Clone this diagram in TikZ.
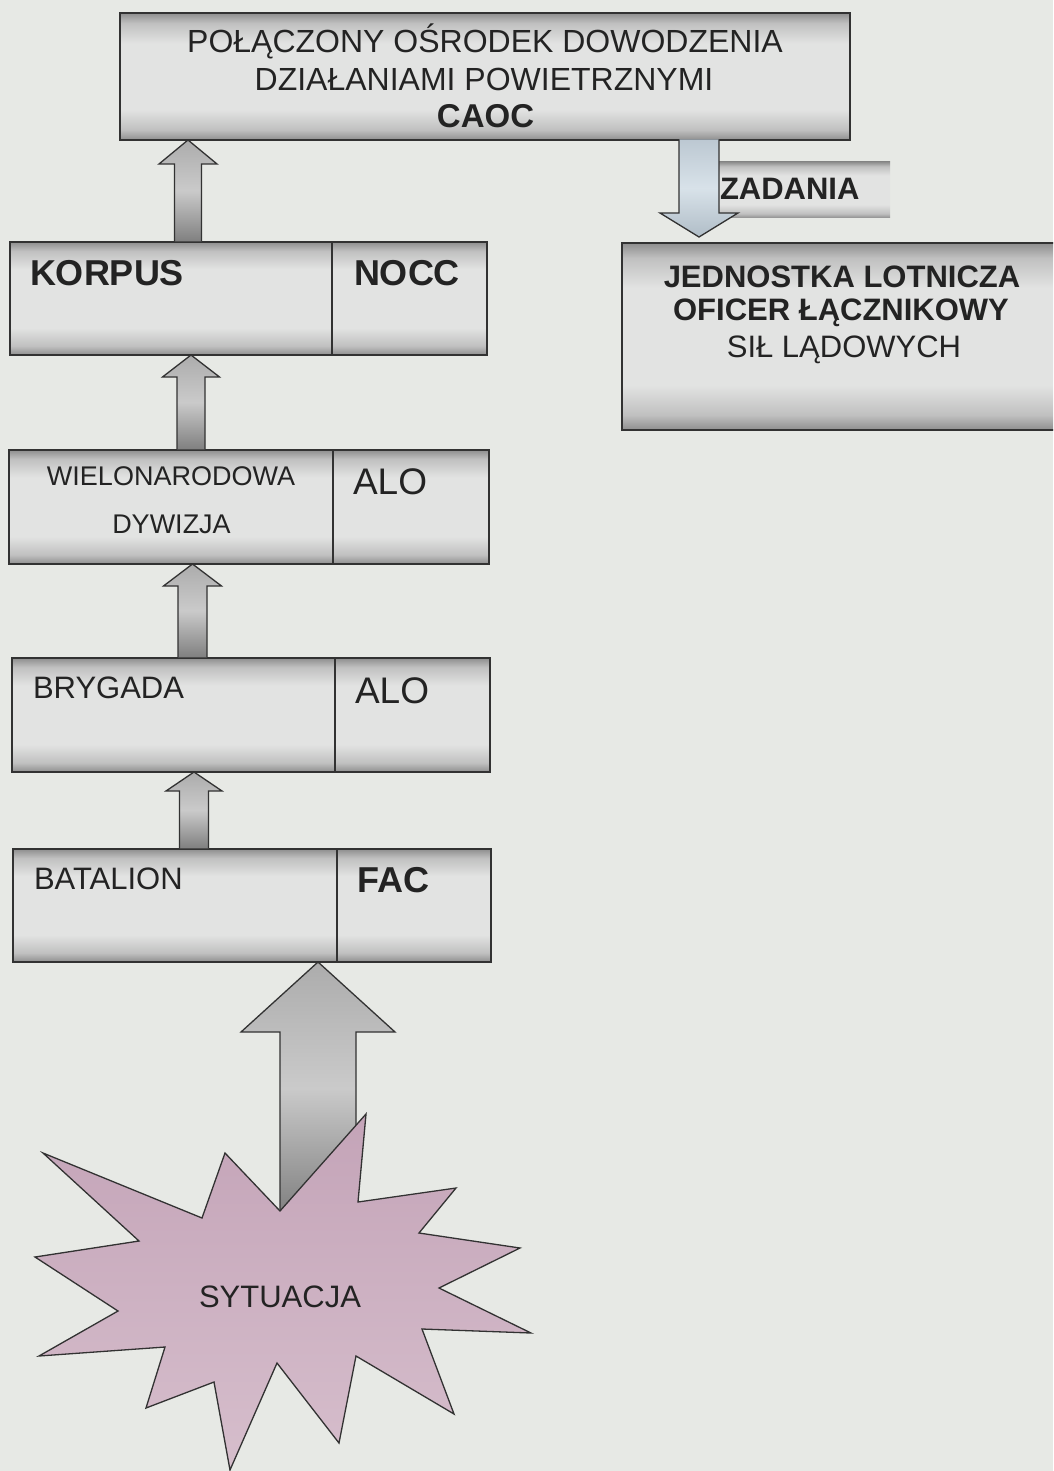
\documentclass[tikz,border=0pt]{standalone}
\usepackage{fontspec}
\setmainfont{Liberation Sans}
\usetikzlibrary{calc}
\definecolor{pagebg}{RGB}{231,233,229}
\definecolor{bD}{RGB}{142,142,142}
\definecolor{bM}{RGB}{192,192,192}
\definecolor{bL}{RGB}{226,227,226}
\definecolor{edge}{RGB}{50,50,50}
\definecolor{ink}{RGB}{35,35,35}
\definecolor{arT}{RGB}{172,172,172}
\definecolor{arM}{RGB}{202,202,202}
\definecolor{arB}{RGB}{128,128,128}
\definecolor{blT}{RGB}{188,200,210}
\definecolor{blM}{RGB}{216,226,233}
\definecolor{blB}{RGB}{176,189,199}
\definecolor{stT}{RGB}{196,164,184}
\definecolor{stB}{RGB}{214,190,204}
\pgfdeclareverticalshading{boxshade}{100bp}{color(0bp)=(bD); color(25bp)=(bD); color(29bp)=(bM); color(37bp)=(bL); color(63bp)=(bL); color(71bp)=(bM); color(75bp)=(bD); color(100bp)=(bD)}
\newcommand\blockup[7][blockarrow]{%
  \path[#1] let \p1=(#2), \p2=(#3) in
    (#4pt-#5pt,\y1+0.7pt) -- (#4pt-#5pt,\y2-#7pt) -- (#4pt-#6pt,\y2-#7pt) -- (#4pt,\y2)
    -- (#4pt+#6pt,\y2-#7pt) -- (#4pt+#5pt,\y2-#7pt) -- (#4pt+#5pt,\y1+0.7pt);}
\tikzset{
  box/.style={draw=edge, line width=1.4pt, shading=boxshade, anchor=north west,
    inner sep=0pt, outer sep=0pt},
  banner/.style={shading=boxshade, anchor=north west, inner sep=0pt, outer sep=0pt},
  txt/.style={inner sep=0pt, outer sep=0pt, text=ink, anchor=base west},
  ctxt/.style={txt, anchor=base},
  blockarrow/.style={draw=edge, line width=1.3pt, line join=miter,
    top color=arT, bottom color=arB, middle color=arM},
  downarrow/.style={draw=edge, line width=1.3pt, line join=miter,
    top color=blT, bottom color=blB, middle color=blM},
  starstyle/.style={draw=edge, line width=1.3pt, line join=miter,
    top color=stT, bottom color=stB},
  fR/.style={font=\fontsize{#1}{#1}\selectfont},
  fB/.style={font=\fontsize{#1}{#1}\selectfont\bfseries},
}
\begin{document}
\begin{tikzpicture}[x=1pt,y=-1pt]
\useasboundingbox (0,0) rectangle (1053,1471);
\fill[pagebg] (0,0) rectangle (1053,1471);
\clip (0,0) rectangle (1053,1471);

% boxes
\node[box, minimum width=730pt, minimum height=127pt] (caoc) at (120,13) {};
\node[box, minimum width=322pt, minimum height=113pt] (korpusL) at (10,242) {};
\node[box, minimum width=155pt, minimum height=113pt] (korpusR) at (332,242) {};
\node[box, minimum width=324pt, minimum height=114pt] (wieloL) at (9,450) {};
\node[box, minimum width=156pt, minimum height=114pt] (wieloR) at (333,450) {};
\node[box, minimum width=323pt, minimum height=114pt] (brygL) at (12,658) {};
\node[box, minimum width=155pt, minimum height=114pt] (brygR) at (335,658) {};
\node[box, minimum width=324pt, minimum height=113pt] (batL) at (13,849) {};
\node[box, minimum width=154pt, minimum height=113pt] (batR) at (337,849) {};
\node[box, minimum width=440pt, minimum height=187pt] (jed) at (622,243) {};
\node[banner, minimum width=175pt, minimum height=56pt] (zadBanner) at (715,162) {};

% up arrows
\blockup{korpusL.north}{caoc.south}{188}{13.5}{29}{24}
\blockup{wieloL.north}{korpusL.south}{191}{14}{28.5}{22}
\blockup{brygL.north}{wieloL.south}{192.5}{14.5}{29}{22}
\blockup{batL.north}{brygL.south}{194}{14.5}{28}{19}
\coordinate (sitTop) at (318,1215);
\blockup{sitTop}{batL.south}{318}{38}{77}{70}

% down arrow to the air unit
\path[downarrow] let \p1=(caoc.south), \p2=(jed.north) in
  (679pt,\y1+0.7pt) -- (679pt,\y2+30pt) -- (660pt,\y2+30pt) -- (699pt,\y2+6pt)
  -- (738pt,\y2+30pt) -- (719pt,\y2+30pt) -- (719pt,\y1+0.7pt);

% star
\path[starstyle] (366,1114) -- (358,1202) -- (456,1188) -- (419,1233) -- (520,1248)
  -- (439,1288) -- (531,1333) -- (422,1329) -- (454,1414) -- (356,1356)
  -- (339,1443) -- (277,1363) -- (230,1470) -- (214,1382) -- (146,1408)
  -- (165,1347) -- (39,1356) -- (118,1311) -- (35,1257) -- (139,1241)
  -- (43,1153) -- (202,1218) -- (225,1153) -- (280,1211) -- cycle;

% texts
\node[ctxt, fR=32] (t1) at (485,53) {POŁĄCZONY OŚRODEK DOWODZENIA};
\node[ctxt, fR=32] (t2) at (484,91) {DZIAŁANIAMI POWIETRZNYMI};
\node[ctxt, fB=33] (t3) at (485.5,128) {CAOC};
\node[txt, fB=31] (tzad) at (720,200) {ZADANIA};
\node[ctxt, fB=31] (tj1) at (842,287) {JEDNOSTKA LOTNICZA};
\node[ctxt, fB=31] (tj2) at (841,320) {OFICER ŁĄCZNIKOWY};
\node[ctxt, fR=31] (tj3) at (844,357) {SIŁ LĄDOWYCH};
\node[txt, fB=36] (tk) at (30,285) {KORPUS};
\node[txt, fB=36] (tn) at (354,285) {NOCC};
\node[ctxt, fR=27] (tw1) at (171,485) {WIELONARODOWA};
\node[ctxt, fR=27] (tw2) at (171.5,533) {DYWIZJA};
\node[txt, fR=37] (ta1) at (353,494) {ALO};
\node[txt, fR=31] (tb) at (33,698) {BRYGADA};
\node[txt, fR=37] (ta2) at (355,703) {ALO};
\node[txt, fR=31] (tbat) at (34,889) {BATALION};
\node[txt, fB=36] (tfac) at (357,892) {FAC};
\node[ctxt, fR=31] (tsit) at (280,1307) {SYTUACJA};
\end{tikzpicture}
\end{document}
